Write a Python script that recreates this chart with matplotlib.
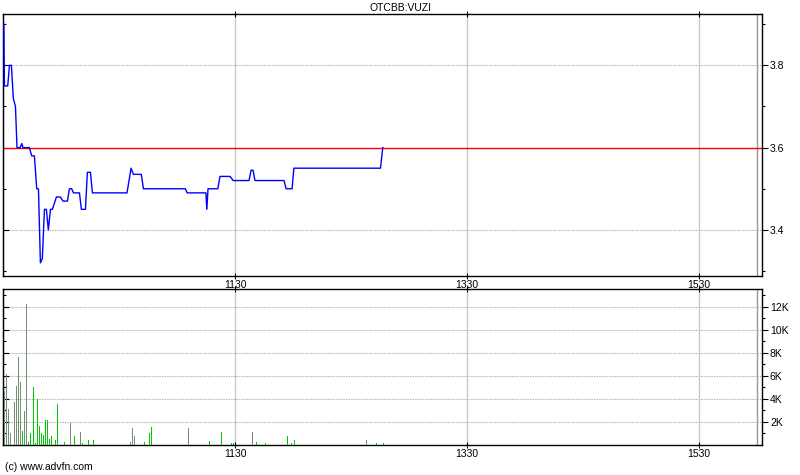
import matplotlib
matplotlib.use("Agg")
import matplotlib.pyplot as plt
from matplotlib.ticker import FixedLocator, FuncFormatter

plt.rcParams['font.family'] = ['Liberation Sans', 'DejaVu Sans']

# ---- data (minutes after 09:30) ----
price_times = [0.4, 0.7, 2.4, 3.3, 4.3, 5.3, 6.4, 7.2, 8.8, 9.7, 10.3, 13.6, 14.8, 16.2,
               17.4, 18.3, 19.3, 20.3, 21.4, 22.4, 23.4, 24.5, 25.5, 27.6, 29.6, 31.0,
               33.3, 34.3, 35.5, 36.4, 39.5, 40.5, 42.6, 43.6, 45.2, 46.2, 64.1, 66.2,
               67.4, 71.5, 72.6, 94.3, 95.2, 104.9, 105.4, 106.0, 111.1, 112.2, 117.4,
               119.0, 127.2, 128.3, 129.3, 130.3, 145.3, 146.4, 149.5, 150.4, 195.2, 196.4]
prices = [3.90, 3.75, 3.75, 3.80, 3.80, 3.72, 3.70, 3.60, 3.60, 3.61, 3.60, 3.60, 3.58, 3.58,
          3.50, 3.50, 3.32, 3.33, 3.45, 3.45, 3.40, 3.45, 3.45, 3.48, 3.48, 3.47,
          3.47, 3.50, 3.50, 3.49, 3.49, 3.45, 3.45, 3.54, 3.54, 3.49, 3.49, 3.55,
          3.535, 3.535, 3.50, 3.50, 3.49, 3.49, 3.45, 3.50, 3.50, 3.53, 3.53,
          3.52, 3.52, 3.545, 3.545, 3.52, 3.52, 3.50, 3.50, 3.55, 3.55, 3.60]
prev_close = 3.60

vol_times = [0.5, 1.7, 2.7, 3.8, 5.8, 6.9, 7.9, 8.9, 10.0, 11.0, 12.0, 13.1, 14.1, 15.7,
             16.7, 17.7, 18.8, 19.8, 20.9, 21.9, 22.9, 24.0, 25.0, 27.0, 28.1, 31.7,
             34.8, 36.9, 40.0, 41.0, 44.1, 46.7, 65.8, 66.9, 67.9, 73.1, 75.7, 76.7,
             95.8, 106.7, 112.9, 118.1, 119.1, 129.0, 131.0, 135.7, 147.1, 149.1, 150.7,
             187.9, 193.1, 196.7]
volumes = [4640, 6170, 3130, 990, 3740, 5070, 7590, 5420, 1220, 2900, 12260, 260, 990, 4990,
           100, 3940, 1570, 1040, 870, 2140, 2140, 520, 780, 350, 3570, 200,
           1850, 700, 1060, 90, 350, 350, 260, 1410, 700, 260, 970, 1500,
           1420, 330, 1060, 90, 90, 1060, 180, 150, 700, 90, 420,
           420, 90, 90]
vol_kind = ['m', 'm', 'm', 'm', 'm', 'm', 'm', 'm', 'g', 'm', 'm', 'g', 'g', 'g',
            'g', 'g', 'g', 'g', 'g', 'g', 'g', 'g', 'g', 'g', 'g', 'g',
            'm', 'g', 'm', 'g', 'g', 'g', 'm', 'm', 'm', 'g', 'g', 'g',
            'm', 'g', 'g', 'g', 'g', 'm', 'g', 'g', 'g', 'g', 'g',
            'm', 'g', 'g']

xtick_pos = [120, 240, 360]
xtick_labels = ['1130', '1330', '1530']
close_time = 390
price_major = [3.4, 3.6, 3.8]
price_minor = [3.3, 3.5, 3.7, 3.9]
vol_major = [2000, 4000, 6000, 8000, 10000, 12000]
vol_minor = [1000, 3000, 5000, 7000, 9000, 11000, 13000]

title = 'OTCBB:VUZI'
credit = '(c) www.advfn.com'

# ---- figure ----
W, H = 800, 475
fig = plt.figure(figsize=(W / 100, H / 100), dpi=100)
fig.patch.set_facecolor('white')

def frac(x0, y0, x1, y1):
    return [x0 / W, 1 - y1 / H, (x1 - x0) / W, (y1 - y0) / H]

ax1 = fig.add_axes(frac(2.5, 14.3, 762.3, 276))
ax2 = fig.add_axes(frac(2.5, 289.3, 762.3, 444.5))

xmin = -0.3
xmax = xmin + (762.3 - 2.5) / 1.9333
hgrid_kw = dict(color='#bcbcbc', lw=0.8, ls=(0, (1.5, 0.8)), zorder=0)
vgrid_kw = dict(color='#c4c4c4', lw=0.9, ls='-', zorder=0)

for ax in (ax1, ax2):
    ax.set_xlim(xmin, xmax)
    for sp in ax.spines.values():
        sp.set_linewidth(1.0)
        sp.set_color('black')
    for t in xtick_pos:
        ax.axvline(t, **vgrid_kw)
    ax.axvline(close_time, color='#989898', lw=1.0, zorder=0)
    ax.xaxis.set_major_locator(FixedLocator(xtick_pos))
    ax.set_xticklabels(xtick_labels)
    ax.tick_params(axis='x', direction='inout', length=4, width=0.8, labelsize=7.5, pad=1,
                   top=True, bottom=True)
    ax.yaxis.tick_right()
    ax.tick_params(axis='y', which='both', direction='out', right=True, left=False,
                   labelright=True, labelleft=False, labelsize=7.5, pad=1.5, width=0.8)
    ax.tick_params(axis='y', which='major', length=4)
    ax.tick_params(axis='y', which='minor', length=2)
    sec = ax.secondary_yaxis('left')
    sec.tick_params(which='both', direction='in', labelleft=False, width=0.8)
    sec.tick_params(which='major', length=4)
    sec.tick_params(which='minor', length=2)

# price panel
ax1.set_ylim(3.288, 3.924)
ax1.yaxis.set_major_locator(FixedLocator(price_major))
ax1.yaxis.set_minor_locator(FixedLocator(price_minor))
ax1.yaxis.set_major_formatter(FuncFormatter(lambda v, p: f'{v:.1f}'))
for v in price_major:
    if abs(v - prev_close) > 1e-6:
        ax1.axhline(v, **hgrid_kw)
ax1.axhline(prev_close, color='#ff0000', lw=1.0, zorder=2)
ax1.plot(price_times, prices, color='#0000ff', lw=1.0, zorder=3)

# volume panel
ax2.set_ylim(0, 13530)
ax2.yaxis.set_major_locator(FixedLocator(vol_major))
ax2.yaxis.set_minor_locator(FixedLocator(vol_minor))
ax2.yaxis.set_major_formatter(FuncFormatter(lambda v, p: f'{int(v / 1000)}K'))
for v in vol_major:
    ax2.axhline(v, **hgrid_kw)
colors = ['#6f8f6f' if k == 'm' else '#00c800' for k in vol_kind]
ax2.vlines(vol_times, 0, volumes, colors=colors, lw=0.72, zorder=3, antialiased=False)

# secondary axes tick locations
for ax, maj, mnr in ((ax1, price_major, price_minor), (ax2, vol_major, vol_minor)):
    for ch in ax.child_axes:
        ch.yaxis.set_major_locator(FixedLocator(maj))
        ch.yaxis.set_minor_locator(FixedLocator(mnr))

fig.text(0.5, 1 - 8 / H, title, ha='center', va='center', fontsize=7.5)
fig.text(5 / W, 1 - 467 / H, credit, ha='left', va='center', fontsize=7.5)

fig.savefig('out.png', dpi=100)
